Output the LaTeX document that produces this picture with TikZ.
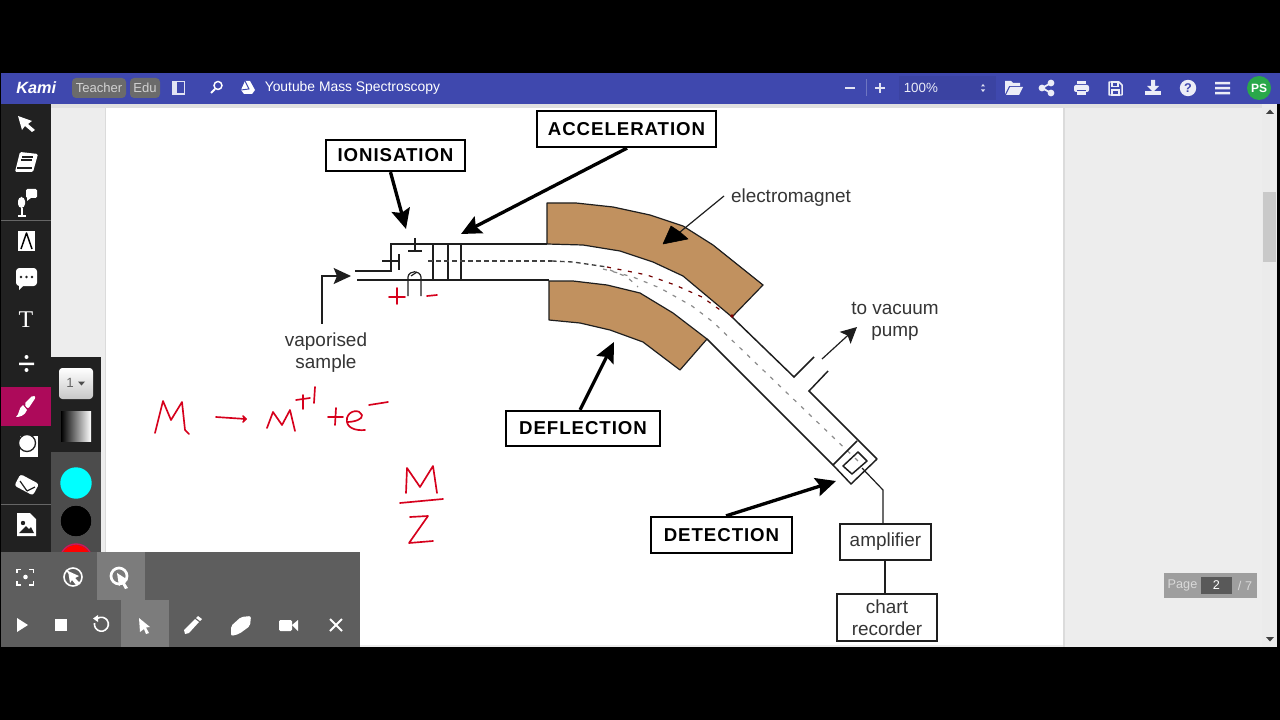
\documentclass[tikz,border=0pt]{standalone}
\usepackage{fontspec}
\setmainfont{Liberation Sans}
\newfontfamily\lblfont[LetterSpace=5]{Liberation Sans Bold}
\newfontfamily\serfont{Liberation Serif}
\usetikzlibrary{arrows.meta,calc}
\definecolor{barblue}{HTML}{3F48AE}
\definecolor{magnet}{HTML}{C1915F}
\definecolor{ink}{HTML}{1E1E1E}
\definecolor{hand}{HTML}{D6001C}
\definecolor{tbar}{HTML}{212121}
\definecolor{ovl}{HTML}{5E5E5E}
\definecolor{ovh}{HTML}{7C7C7C}
\definecolor{pinkblock}{HTML}{AD0A5A}
\definecolor{cyanpick}{HTML}{00FFFF}
\definecolor{redpick}{HTML}{FF0000}
\definecolor{redring}{HTML}{D5145A}
\definecolor{avagreen}{HTML}{2AA84A}
\tikzset{
 stagebox/.style={draw=black,line width=1.7pt,fill=white,inner sep=0pt,font=\lblfont\fontsize{14}{17}\selectfont},
 partbox/.style={draw=ink,line width=1.1pt,fill=white,inner sep=0pt,align=center,text=ink!90,font=\fontsize{14.2}{16.5}\selectfont},
 lab/.style={inner sep=0pt,align=center,text=ink!90,font=\fontsize{14.2}{16.5}\selectfont},
 bigarrow/.style={line width=2.5pt,draw=black,-{Stealth[length=15pt,width=14pt,inset=2.5pt]}},
 wall/.style={draw=ink,line width=1.1pt},
 thinwire/.style={draw=ink,line width=0.9pt},
 plate/.style={draw=ink,line width=1.2pt},
 magshape/.style={fill=magnet,draw=ink,line width=0.9pt,line join=round},
 beamdark/.style={draw=ink!85,line width=1pt,dash pattern=on 3.5pt off 2.5pt},
 beamgrey/.style={draw=black!45,line width=0.9pt,dash pattern=on 3pt off 5pt},
 beamred/.style={draw=red!45!black,line width=0.9pt,dash pattern=on 3pt off 5pt},
 redink/.style={draw=hand,line width=1.25pt,line cap=round,line join=round},
 wico/.style={fill=white,draw=none},
 wline/.style={draw=white,line width=1.4pt,line cap=round,line join=round},
 toptext/.style={text=white,inner sep=0pt},
}
\begin{document}
\begin{tikzpicture}[x=0.75pt,y=-0.75pt]
\useasboundingbox (0,0) rectangle (1280,720);
% backgrounds
\fill[black] (0,0) rectangle (1280,720);
\fill[white!93!black] (1,104) rectangle (1280,647);
\fill[white!88!black] (51,104) rectangle (1280,108);
\fill[white] (106,108) rectangle (1063,645);
\fill[white!86!black] (1063,108) rectangle (1064.5,647);
\fill[white!86!black] (104.5,108) rectangle (106,647);
\fill[barblue] (1,73) rectangle (1280,104);
\fill[tbar] (1,104) rectangle (51,647);
\draw[white!40!black,line width=0.5pt] (1,220) -- (51,220);

% magnets
\draw[magshape] (547,203) -- (576,203) -- (613,207) -- (650,215) -- (683,226) -- (713,245) -- (763,285)
  -- (732,317) -- (683,276) -- (653,262) -- (620,251) -- (583,245) -- (547,244) -- cycle;
\draw[magshape] (549,281) -- (573,281) -- (607,285) -- (640,293) -- (673,313) -- (707,339) -- (680,370)
  -- (643,342) -- (610,330) -- (580,323) -- (549,320) -- cycle;

% tube and source
\coordinate (wallA) at (391,244);
\coordinate (wallB) at (547,244);
\coordinate (wallC) at (355,271);
\coordinate (wallD) at (357,280);
\coordinate (wallE) at (549,280);
\draw[wall] (wallC) -- (391,271) -- (wallA) -- (wallB);
\draw[wall] (wallD) -- (wallE);
\draw[plate] (433,244) -- (433,280);
\draw[plate] (448,244) -- (448,280);
\draw[plate] (461,244) -- (461,280);
\draw[thinwire] (415,238) -- (415,251);
\draw[plate] (408,251) -- (422,251);
\draw[plate] (399,254) -- (399,270);
\draw[thinwire] (382,261) -- (399,261);
\draw[thinwire] (408,296) -- (408,277) .. controls (409,270) and (420,270) .. (421,277) -- (421,296);
\draw[thinwire] (411,276) -- (417,272);
% beams
\draw[beamdark] (428,261) -- (552,261);
\draw[beamdark] (552,261) -- (573,262) -- (607,267);
\draw[beamred] (607,267) -- (647,275) -- (675,285) -- (702,297) -- (723,312);
\draw[beamgrey] (603,269) -- (633,277) -- (660,288) -- (692,306) -- (713,322) -- (858,461);
\draw[beamgrey] (610,270) -- (627,277) -- (638,287);
% flight tube
\coordinate (upwallS) at (732,317);
\coordinate (lowwallS) at (707,339);
\draw[wall] (upwallS) -- (794,377) -- (814,357);
\draw[wall] (828,371) -- (809,391) -- (877,459);
\draw[wall] (lowwallS) -- (833,465);
\fill[red!50!black] (732,316) circle (1.8);
% detector
\draw[wall,line join=round] (857,441) -- (833,465) -- (851,484) -- (877,459);
\draw[wall,line join=round] (858,452) -- (867,461) -- (852,474) -- (843,466) -- cycle;
\coordinate (detout) at (862,468);
\coordinate (wirebend) at (883,490);

% stage boxes
\node[stagebox,minimum width=139*0.75pt,minimum height=31*0.75pt] (ion) at (395.5,155.5) {IONISATION};
\node[stagebox,minimum width=179*0.75pt,minimum height=36*0.75pt] (acc) at (626.5,129) {ACCELERATION};
\node[stagebox,minimum width=154*0.75pt,minimum height=35*0.75pt] (def) at (583,428.5) {DEFLECTION};
\node[stagebox,minimum width=141*0.75pt,minimum height=36*0.75pt] (det) at (721.5,535) {DETECTION};
% parts
\node[partbox,minimum width=91*0.75pt,minimum height=36*0.75pt] (amp) at (885.5,542) {amplifier};
\node[partbox,minimum width=100*0.75pt,minimum height=47*0.75pt] (rec) at (887,617.5) {chart\\recorder};
\draw[thinwire] (detout) -- (wirebend) -- (wirebend |- amp.north);
\draw[thinwire] ([xshift=-1.5pt]amp.south -| rec.north) -- ([xshift=-1.5pt]rec.north);
% labels
\node[lab] (em) at (791,198) {electromagnet};
\node[lab] (pump) at (895,321) {to vacuum\\pump};
\node[lab] (vap) at (326,353) {vaporised\\sample};
% arrows
\coordinate (ionT) at (406,229);
\coordinate (accT) at (461,234);
\coordinate (defT) at (614,342);
\coordinate (detT) at (836,481);
\coordinate (emT) at (663,244);
\coordinate (pumpS) at (822,359);
\coordinate (pumpT) at (857,327);
\coordinate (sampB) at (322,276);
\coordinate (sampT) at (351,276);
\draw[bigarrow] ([xshift=-3.75pt]ion.south) -- (ionT);
\draw[bigarrow] ([xshift=0.4pt]acc.south) -- (accT);
\draw[bigarrow] ([xshift=-2.2pt]def.north) -- (defT);
\draw[bigarrow] ([xshift=3.4pt]det.north) -- (detT);
\draw[thinwire] (724,196) -- (680,232);
\draw[fill=black,draw=black,line join=round] (emT) -- (671,226) -- (680,232) -- (688,239) -- cycle;
\draw[thinwire,-{Stealth[length=12pt,width=12pt,inset=2.5pt]}] (pumpS) -- (pumpT);
\draw[thinwire,-{Stealth[length=13pt,width=12pt,inset=2.5pt]}] ([xshift=-3pt]vap.north) ++(0,-9) -- (sampB) -- (sampT);

% handwriting
\draw[redink] (155,433) -- (163,401) -- (171,420) -- (182,402) -- (185,430) -- (189,434);
\draw[redink] (216,417) -- (246,419);
\draw[redink,fill=hand] (243,416) -- (246,419) -- (243,422);
\draw[redink] (267,428) -- (273,412) -- (282,425) -- (290,410) -- (295,431);
\draw[redink] (296,400) -- (310,398);
\draw[redink] (303,395) -- (303,409);
\draw[redink] (315,387) -- (314,403);
\draw[redink] (328,417) -- (343,417);
\draw[redink] (336,408) -- (335,425);
\draw[redink] (347,422) .. controls (355,422) and (363,419) .. (362,415) .. controls (360,409) and (349,410) .. (347,418) .. controls (345,428) and (356,431) .. (365,430);
\draw[redink] (369,405) -- (388,402);
\draw[redink] (406,493) -- (407,468) -- (420,487) -- (433,466) -- (437,493);
\draw[redink] (400,503) -- (443,499);
\draw[redink] (410,517) -- (428,516) -- (409,543) -- (433,541);
\draw[redink] (389,297) -- (405,297);
\draw[redink] (397,288) -- (397,304);
\draw[redink] (427,296) -- (437,295);

% top bar
\node[toptext,anchor=west,font=\bfseries\itshape\fontsize{12.2}{14}\selectfont] (kami) at (16,88) {Kami};
\fill[white!42!black,rounded corners=3pt] (72,78) rectangle (126,98);
\fill[white!42!black,rounded corners=3pt] (130,78) rectangle (160,98);
\node[inner sep=0pt,text=white!82!black,font=\fontsize{9.8}{12}\selectfont] (teach) at (99,88) {Teacher};
\node[inner sep=0pt,text=white!82!black,font=\fontsize{9.8}{12}\selectfont] (edu) at (145,88) {Edu};
\draw[white!85!barblue,line width=1.2pt] (172.5,81.5) rectangle (184.5,94);
\fill[white!85!barblue] (172.5,81.5) rectangle (176.5,94);
\draw[white,line width=1.1pt] (218,85.5) circle (4);
\draw[white,line width=1.4pt] (215,89) -- (211,93);
\fill[white] (245,81) -- (250,81) -- (255,90) -- (252,94) -- (244,94) -- (241,90) -- cycle;
\draw[barblue,line width=0.7pt] (245,81) -- (249,89) -- (241,90);
\node[toptext,anchor=west,font=\fontsize{10.4}{12.5}\selectfont] (title) at (264.5,88) {Youtube Mass Spectroscopy};
\draw[white!85!barblue,line width=1.3pt] (845,88) -- (855,88);
\draw[barblue!75!white,line width=0.4pt] (866,79) -- (866,96);
\draw[white!85!barblue,line width=1.3pt] (875,88) -- (885,88) (880,83) -- (880,93);
\fill[barblue!93!black] (899,76) rectangle (996,100);
\node[toptext,anchor=west,text=white!90!barblue,font=\fontsize{10}{12}\selectfont] (zoomv) at (903.5,88) {100\%};
\fill[white!85!barblue] (981,86.5) -- (983,84) -- (985,86.5) -- cycle (981,89.5) -- (983,92) -- (985,89.5) -- cycle;
% folder
\fill[white!90!barblue] (1005,81) -- (1011,81) -- (1013,83) -- (1020,83) -- (1020,86) -- (1009,86) -- (1005,94) -- cycle;
\fill[white!90!barblue] (1010,87) -- (1023,87) -- (1019,95) -- (1006,95) -- cycle;
% share
\fill[white!90!barblue] (1042,88) circle (3.4) (1051,83) circle (3.4) (1051,93) circle (3.4);
\draw[white!90!barblue,line width=1.3pt] (1051,83) -- (1042,88) -- (1051,93);
% print
\fill[white!90!barblue,rounded corners=1.5pt] (1074,85) rectangle (1089,92);
\fill[white!90!barblue] (1077,81) rectangle (1086,84.5);
\fill[white!90!barblue] (1077,90) rectangle (1086,95);
\draw[barblue,line width=0.7pt] (1077,90) -- (1086,90);
% save
\draw[white!90!barblue,line width=1.1pt,line join=round] (1109,82) -- (1119,82) -- (1122,85) -- (1122,95) -- (1109,95) -- cycle;
\draw[white!90!barblue,line width=0.9pt] (1112,82) rectangle (1118,86.5);
\draw[white!90!barblue,line width=0.9pt] (1112,95) rectangle (1119,90);
% download
\fill[white!90!barblue] (1151,80) rectangle (1155,86) (1147,86) -- (1159,86) -- (1153,92) -- cycle;
\fill[white!90!barblue] (1145,91) rectangle (1161,95);
% help
\fill[white!90!barblue] (1188,88) circle (8.2);
\node[inner sep=0pt,text=barblue,font=\bfseries\fontsize{9.5}{11}\selectfont] (helpq) at (1188,88) {?};
% menu
\fill[white!90!barblue] (1215,82) rectangle (1230,84.5) (1215,87) rectangle (1230,89.5) (1215,92) rectangle (1230,94.5);
% avatar
\fill[avagreen] (1259,88) circle (12);
\node[toptext,font=\bfseries\fontsize{9}{11}\selectfont] (ava) at (1259,88) {PS};

% scrollbar
\fill[white!92!black] (1262,104) rectangle (1277,647);
\fill[white!79!black] (1263,192) rectangle (1276,262);
\fill[black!75] (1266,114) -- (1270,109.5) -- (1274,114) -- cycle;
\fill[black!75] (1266,637) -- (1270,641.5) -- (1274,637) -- cycle;
\fill[black] (1277,104) rectangle (1280,647);

% page indicator
\fill[white!62!black] (1164,573) rectangle (1257,598);
\fill[white!35!black] (1201,577) rectangle (1232,594);
\node[inner sep=0pt,text=white!85!black,font=\fontsize{9.5}{11}\selectfont] (pg) at (1182.5,585.5) {Page};
\node[inner sep=0pt,text=white,font=\fontsize{9.5}{11}\selectfont] (pgn) at (1216.5,585.5) {2};
\node[inner sep=0pt,text=white!85!black,font=\fontsize{9.5}{11}\selectfont] (pgt) at (1245,585.5) {/ 7};

% left tools
\fill[wico] (18,116) -- (32,121) -- (28,124) -- (35,130) -- (32,132) -- (25,126) -- (22,130) -- cycle;
\fill[wico,rounded corners=1pt] (20,152) -- (38,154) -- (33,172) -- (15,172) -- cycle;
\draw[tbar,line width=0.8pt] (22,157) -- (33,157) (21,160) -- (32,160) (17,168) -- (32,168);
\fill[wico,rounded corners=1pt] (26,189) rectangle (37,198);
\fill[wico] (27,198) -- (31,198) -- (27,201) -- cycle;
\fill[wico,rounded corners=3pt] (18,197) rectangle (25,208);
\draw[white,line width=1.1pt] (22,208) -- (22,215) (18,216) -- (26,216);
\fill[wico] (18,231) rectangle (35,251);
\draw[black,line width=1.1pt,line join=round] (21,249) -- (26.5,233) -- (32,249);
\fill[wico,rounded corners=2.5pt] (16,268) rectangle (37,286);
\fill[wico] (19,285) -- (24,285) -- (19,290) -- cycle;
\fill[tbar] (21,277) circle (1.3) (26.5,277) circle (1.3) (32,277) circle (1.3);
\node[inner sep=0pt,text=white,font=\serfont\fontsize{18}{20}\selectfont] (tt) at (26,320) {T};
\fill[wico] (26.5,357) circle (2) (26.5,370) circle (2) (19,362.5) rectangle (34,365);
\fill[pinkblock] (1,387) rectangle (51,426);
\fill[wico,rounded corners=1.5pt] (36,397) -- (33,395) -- (24,404) -- (28,409) -- cycle;
\fill[wico] (23,405) -- (27,410) .. controls (25,416) and (19,417) .. (16,417) .. controls (20,414) and (18,408) .. (23,405) -- cycle;
\fill[wico] (20,436) rectangle (38,457);
\fill[wico] (27,443) circle (8.5);
\draw[tbar,line width=1pt] (27,443) circle (8.5);
\fill[wico] (27,443) circle (7);
\fill[wico,rotate around={-28:(26,485)},rounded corners=2pt] (16,478) rectangle (37,491);
\draw[tbar,line width=0.9pt] (20,481) -- (27,491) (27,491) -- (35,487);
\fill[wico] (17,513) -- (30,513) -- (36,519) -- (36,536) -- (17,536) -- cycle;
\fill[tbar] (23,523) circle (2.2);
\fill[tbar] (19,533) -- (26,526) -- (29,529) -- (31,527) -- (34,533) -- cycle;
\draw[white!40!black,line width=0.5pt] (1,504) -- (51,504);

% pen panel
\fill[tbar] (51,357) rectangle (101,452);
\fill[white!30!black] (51,452) rectangle (101,552);
\shade[top color=white,bottom color=white!78!black,rounded corners=2.5pt] (59,368) rectangle (93,399);
\node[inner sep=0pt,text=black!60,font=\fontsize{10}{12}\selectfont] (wd) at (70,383) {1};
\fill[black!70] (78,381.5) -- (85,381.5) -- (81.5,385.5) -- cycle;
\shade[left color=black,right color=white] (61,411) rectangle (91,441);
\fill[cyanpick] (76,483) circle (15.7);
\fill[black] (76,521) circle (15.7);
\draw[white!35!black,line width=0.4pt] (76,521) circle (15.7);
\fill[redpick] (76,560) circle (15);
\draw[redring,line width=1pt] (76,560) circle (16);

% overlay
\fill[ovl] (1,552) rectangle (360,647);
\fill[ovh] (97,552) rectangle (145,600);
\fill[ovh] (121,600) rectangle (169,647);
% focus
\draw[white,line width=1.1pt] (17,573) -- (17,569.5) -- (21,569.5) (29,569.5) -- (33.5,569.5) -- (33.5,573)
 (33.5,581) -- (33.5,585) -- (29,585) (21,585) -- (17,585) -- (17,581);
\fill[wico] (25.5,577) circle (2.3);
% cursor off
\draw[white,line width=1.2pt] (73,577) circle (9);
\fill[wico] (68,571) -- (79,576) -- (75,578) -- (79,583) -- (76,585) -- (72,580) -- (70,583) -- cycle;
\draw[white,line width=1pt] (66,570) -- (80,584);
% cursor ring
\draw[white,line width=2pt] (119,576) circle (8);
\fill[wico] (117,573) -- (128,580) -- (124,581.5) -- (128,588) -- (125,589) -- (122,583.5) -- (119,586) -- cycle;
% play etc
\fill[wico] (17,618) -- (28,625) -- (17,632) -- cycle;
\fill[wico] (55,619) rectangle (67,631);
\draw[white,line width=1.2pt] (94.5,623) arc (190:-120:7);
\fill[wico] (98,615) -- (98,622) -- (93,618.5) -- cycle;
\fill[wico] (139,618) -- (150,627) -- (146,627.5) -- (149,633) -- (146,634) -- (144,629) -- (140,632) -- cycle;
\fill[wico] (184,630) -- (185,634) -- (189,633) -- (199,622) -- (195,619) -- cycle;
\fill[wico] (196,618) -- (198,616) -- (202,619) -- (200,621) -- cycle;
\fill[wico,rounded corners=1.5pt] (231,626) -- (241,617) -- (251,616) -- (250,626) -- (239,634) -- (231,636) -- cycle;
\fill[wico,rounded corners=1pt] (279,620) rectangle (292,631);
\fill[wico] (292,625) -- (298,620) -- (298,631) -- cycle;
\draw[white,line width=1.4pt] (330,619) -- (342,631) (342,619) -- (330,631);
\end{tikzpicture}
\end{document}
